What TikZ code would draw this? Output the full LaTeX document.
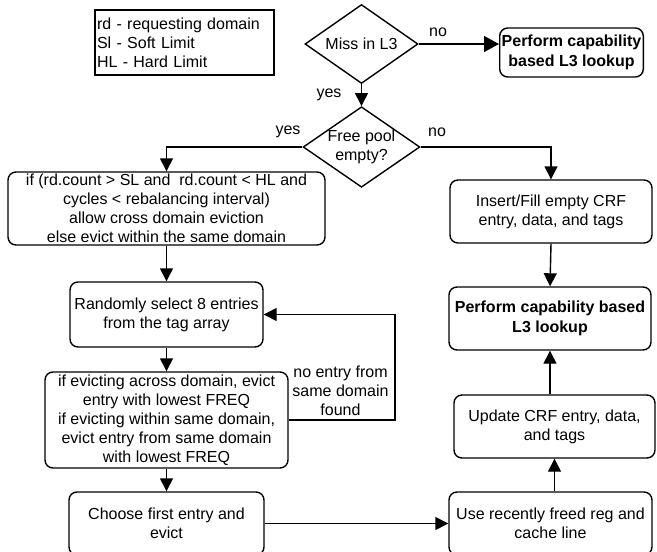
\documentclass[tikz,border=0pt]{standalone}
\usepackage{fontspec}
\setmainfont{Liberation Sans}
\usetikzlibrary{shapes.geometric,arrows.meta}

\begin{document}
\begin{tikzpicture}[x=1pt, y=-1pt, font=\fontsize{16}{19}\selectfont]
  % Configurar estilos
  \tikzset{
    paso/.style={draw, rounded corners=8pt, align=center, inner sep=2pt, line width=1.4pt},
    decision/.style={draw, diamond, aspect=1.45, minimum width=113pt, minimum height=79pt, inner sep=0pt, align=center, line width=1.4pt},
    leyenda/.style={draw, align=left, text width=175pt, minimum height=65pt, inner xsep=2pt, line width=1.2pt},
    flecha/.style={-{Triangle[length=13pt,width=13pt]}, line width=1.4pt},
    etiqueta/.style={inner sep=0pt, align=center}
  }

  % Marco del dibujo
  \useasboundingbox (0,0) rectangle (657,552);

  % Leyenda
  \node[leyenda] (legend) at (184.5,42.5) {rd - requesting domain\\Sl - Soft Limit\\HL - Hard Limit};

  % Decisiones
  \node[decision] (miss) at (361.5,44) {Miss in L3};
  \node[decision] (pool) at (361.5,147) {Free pool\\empty?};

  % Pasos de la columna derecha
  \node[paso, minimum width=143pt, minimum height=49pt, font=\fontsize{16}{20}\selectfont\bfseries] (lookupA) at (571.5,52.5) {Perform capability\\based L3 lookup};
  \node[paso, minimum width=202pt, minimum height=63pt] (insert) at (551,211.5) {Insert/Fill empty CRF\\entry, data, and tags};
  \node[paso, minimum width=202pt, minimum height=63pt, font=\fontsize{16}{20}\selectfont\bfseries] (lookupB) at (550,318.5) {Perform capability based\\L3 lookup};
  \node[paso, minimum width=201pt, minimum height=63pt] (update) at (554.5,426.5) {Update CRF entry, data,\\and tags};
  \node[paso, minimum width=203pt, minimum height=63pt] (reuse) at (550.5,523.5) {Use recently freed reg and\\cache line};

  % Pasos de la columna izquierda
  \node[paso, minimum width=317pt, minimum height=73pt] (policy) at (166.5,208.5) {if (rd.count > SL and\ \ rd.count < HL and\\cycles < rebalancing interval)\\allow cross domain eviction\\else evict within the same domain};
  \node[paso, minimum width=193pt, minimum height=65pt] (sample) at (166.5,314.5) {Randomly select 8 entries\\from the tag array};
  \node[paso, minimum width=243pt, minimum height=96pt] (victim) at (166.5,420) {if evicting across domain, evict\\entry with lowest FREQ\\if evicting within same domain,\\evict entry from same domain\\with lowest FREQ};
  \node[paso, minimum width=195pt, minimum height=63pt] (choose) at (166.5,523.5) {Choose first entry and\\evict};

  % Etiquetas
  \node[etiqueta] (noA) at (438,32) {no};
  \node[etiqueta] (yesA) at (329,95) {yes};
  \node[etiqueta] (yesB) at (288,132) {yes};
  \node[etiqueta] (noB) at (437,132) {no};
  \node[etiqueta] (retry) at (340.5,391) {no entry from\\same domain\\found};
  \coordinate (loop) at (395,360);

  % Flechas
  \draw[flecha, -{Triangle[length=15pt,width=16pt]}] (miss.east) -- (miss.east -| lookupA.west);
  \draw[flecha] (miss.south) -- (pool.north);
  \draw[flecha] (pool.west) -| (policy.north);
  \draw[flecha] (pool.east) -| (insert.north);
  \draw[flecha] (policy.south) -- (sample.north);
  \draw[flecha] (sample.south) -- (victim.north);
  \draw[flecha] (victim.east) -| (loop) |- (sample.east);
  \draw[flecha] (victim.south) -- (choose.north);
  \draw[flecha] (choose.east) -- (reuse.west);
  \draw[flecha] (update.south |- reuse.north) -- (update.south);
  \draw[flecha] (lookupB.south |- update.north) -- (lookupB.south);
  \draw[flecha] (insert.south) -- (lookupB.north);
\end{tikzpicture}
\end{document}
